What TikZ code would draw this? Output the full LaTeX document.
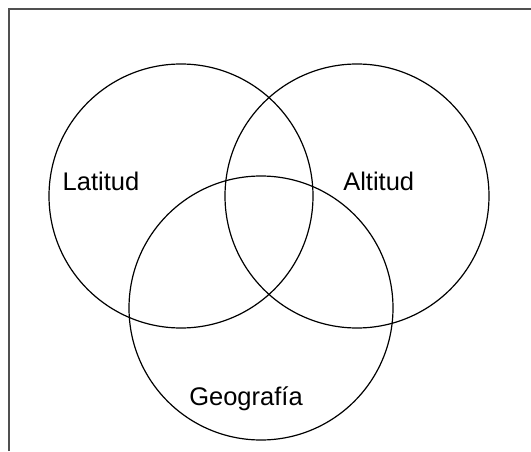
\documentclass[tikz,border=0pt]{standalone}
\usepackage{fontspec}
\setmainfont{Liberation Sans}
\definecolor{framegray}{RGB}{80,80,80}
\begin{document}
\begin{tikzpicture}[x=1pt,y=1pt,
  setcircle/.style={circle,draw=black,line width=1.2pt,minimum size=264pt,inner sep=0pt},
  setlabel/.style={font=\fontsize{25.5}{30}\selectfont,anchor=base,inner sep=0pt}]
\useasboundingbox (0,0) rectangle (531,451);
\draw[framegray,line width=1.8pt] (9,0) -- (9,442) -- (531,442);
\node[setcircle] (lat) at (181,255) {};
\node[setcircle] (alt) at (357,255) {};
\node[setcircle] (geo) at (261,143) {};
\node[setlabel] (tlat) at (101,261) {Latitud};
\node[setlabel] (talt) at (378.7,261) {Altitud};
\node[setlabel] (tgeo) at (246,46) {Geografía};
\end{tikzpicture}
\end{document}
